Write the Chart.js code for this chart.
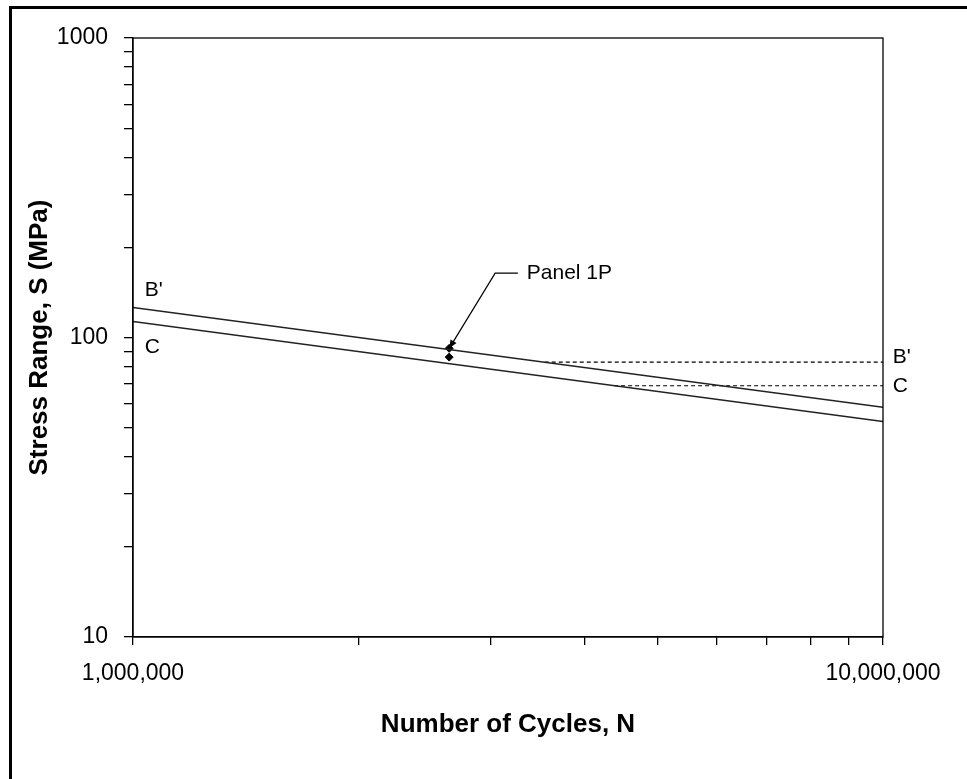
<!DOCTYPE html>
<html>
<head>
<meta charset="utf-8">
<script src="https://cdn.jsdelivr.net/npm/chart.js@4.4.1/dist/chart.umd.min.js"></script>
<style>
html, body { margin: 0; padding: 0; background: #fff; }
#wrap { position: relative; width: 967px; height: 779px; overflow: hidden; }
#moldura { position: absolute; left: 9px; top: 6px; width: 1000px; height: 1000px; border: 3px solid #000; box-sizing: border-box; }
canvas { position: absolute; left: 0; top: 0; }
</style>
</head>
<body>
<div id="wrap">
    <div id="moldura"></div>
    <canvas id="grafico" width="967" height="779"></canvas>
</div>
<script>
// dados
const ciclosCurva = [1e6, 1e7];
const tensaoB = [126, 58.5];
const tensaoC = [113, 52.4];

const ciclosLimiteB = [3.54e6, 1e7];
const limiteB = [82.7, 82.7];
const ciclosLimiteC = [4.38e6, 1e7];
const limiteC = [69, 69];

const ciclosPainel = [2.64e6, 2.64e6];
const tensaoPainel = [92, 86];

// eixos
const xTicks = [1e6, 2e6, 3e6, 4e6, 5e6, 6e6, 7e6, 8e6, 9e6, 1e7];
const xRotulos = { 1000000: '1,000,000', 10000000: '10,000,000' };
const yTicks = [10, 20, 30, 40, 50, 60, 70, 80, 90, 100, 200, 300, 400, 500, 600, 700, 800, 900, 1000];
const yRotulos = { 10: '10', 100: '100', 1000: '1000' };

// rótulos das curvas
const rotulosTexto = ["B'", 'C', "B'", 'C'];
const rotulosN = [1.037e6, 1.037e6, 1.03e7, 1.03e7];
const rotulosS = [144, 92.9, 86.1, 68.9];

// seta do painel
const setaN = [2.64e6, 3.04e6, 3.26e6];
const setaS = [92, 164, 164];
const painelTexto = 'Panel 1P';
const painelN = 3.35e6;
const painelS = 164;

const FONTE = "'Liberation Sans', Arial, sans-serif";

function pontos(xs, ys) {
    return xs.map((x, i) => ({ x, y: ys[i] }));
}

const extras = {
    id: 'extras',
    afterDatasetsDraw(chart) {
        const { ctx, chartArea: a, scales: { x, y } } = chart;
        ctx.save();

        // caixa da área do gráfico
        ctx.strokeStyle = '#000';
        ctx.lineWidth = 1.3;
        ctx.strokeRect(a.left, a.top, a.right - a.left, a.bottom - a.top);

        // rótulos B' e C
        ctx.fillStyle = '#000';
        ctx.font = `21px ${FONTE}`;
        ctx.textAlign = 'left';
        ctx.textBaseline = 'middle';
        rotulosTexto.forEach((t, i) => {
            ctx.fillText(t, x.getPixelForValue(rotulosN[i]), y.getPixelForValue(rotulosS[i]));
        });

        // seta
        const px = setaN.map(v => x.getPixelForValue(v));
        const py = setaS.map(v => y.getPixelForValue(v));
        ctx.lineWidth = 1.2;
        ctx.beginPath();
        ctx.moveTo(px[0], py[0]);
        for (let i = 1; i < px.length; i++) ctx.lineTo(px[i], py[i]);
        ctx.stroke();

        const ang = Math.atan2(py[0] - py[1], px[0] - px[1]);
        const tam = 9;
        ctx.beginPath();
        ctx.moveTo(px[0], py[0]);
        ctx.lineTo(px[0] - tam * Math.cos(ang - 0.4), py[0] - tam * Math.sin(ang - 0.4));
        ctx.lineTo(px[0] - tam * Math.cos(ang + 0.4), py[0] - tam * Math.sin(ang + 0.4));
        ctx.closePath();
        ctx.fill();

        ctx.font = `21px ${FONTE}`;
        ctx.fillText(painelTexto, x.getPixelForValue(painelN), y.getPixelForValue(painelS));

        ctx.restore();
    }
};

const baseLinha = { showLine: true, pointRadius: 0, borderColor: '#222', borderWidth: 1.5, fill: false };

new Chart(document.getElementById('grafico'), {
    type: 'scatter',
    data: {
        datasets: [
            { ...baseLinha, label: "B'", data: pontos(ciclosCurva, tensaoB) },
            { ...baseLinha, label: 'C', data: pontos(ciclosCurva, tensaoC) },
            { ...baseLinha, label: "CAFL B'", data: pontos(ciclosLimiteB, limiteB), borderColor: '#000', borderWidth: 1.2, borderDash: [4, 3] },
            { ...baseLinha, label: 'CAFL C', data: pontos(ciclosLimiteC, limiteC), borderColor: '#000', borderWidth: 1.2, borderDash: [4, 3] },
            { label: 'Panel 1P', data: pontos(ciclosPainel, tensaoPainel), showLine: false, pointStyle: 'rectRot', pointRadius: 4, backgroundColor: '#000', borderColor: '#000' }
        ]
    },
    options: {
        responsive: false,
        animation: false,
        layout: { padding: { left: 0, top: 38, right: 84, bottom: 0 } },
        plugins: { legend: { display: false }, tooltip: { enabled: false } },
        scales: {
            x: {
                type: 'logarithmic',
                min: 1e6, max: 1e7,
                afterBuildTicks: s => { s.ticks = xTicks.map(v => ({ value: v })); },
                afterFit: s => { s.height = 142; },
                border: { display: true, color: '#000', width: 1.3 },
                grid: { drawOnChartArea: false, drawTicks: true, tickLength: 8, color: '#000', lineWidth: 1.3 },
                ticks: {
                    autoSkip: false, maxRotation: 0, padding: 15, color: '#000',
                    font: { family: FONTE, size: 23 },
                    callback: v => xRotulos[v] || ''
                },
                title: {
                    display: true, text: 'Number of Cycles, N', color: '#000',
                    font: { family: FONTE, size: 26, weight: 'bold' },
                    padding: { top: 0, bottom: 39 }
                }
            },
            y: {
                type: 'logarithmic',
                min: 10, max: 1000,
                afterBuildTicks: s => { s.ticks = yTicks.map(v => ({ value: v })); },
                afterFit: s => { s.width = 133; },
                border: { display: true, color: '#000', width: 1.3 },
                grid: { drawOnChartArea: false, drawTicks: true, tickLength: 9, color: '#000', lineWidth: 1.3 },
                ticks: {
                    autoSkip: false, padding: 16, color: '#000',
                    font: { family: FONTE, size: 23 },
                    callback: v => yRotulos[v] || ''
                },
                title: {
                    display: true, text: 'Stress Range, S (MPa)', color: '#000',
                    font: { family: FONTE, size: 26, weight: 'bold' },
                    padding: { top: 24, bottom: 0 }
                }
            }
        }
    },
    plugins: [extras]
});
</script>
</body>
</html>
